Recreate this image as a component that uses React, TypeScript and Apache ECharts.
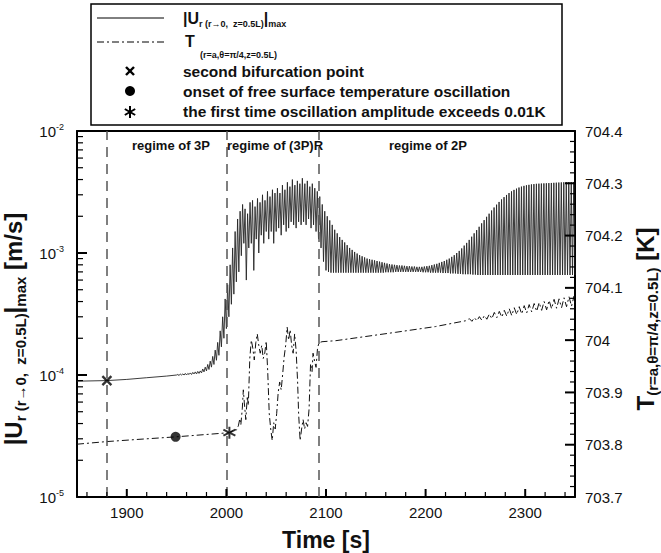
import React, { useEffect, useRef } from 'react';
import * as echarts from 'echarts';

const FONT = '"Liberation Sans", Arial, Helvetica, sans-serif';

// ---- layout of the plotting frame ----
const GRID = { left: 77, right: 86, top: 131, bottom: 56 };
const W = 661;
const H = 553;

// ---- axes / ticks ----
const X_MIN = 1850;
const X_MAX = 2350;
const xMajorTicks = [1900, 2000, 2100, 2200, 2300];
const xMinorTicks = [1860, 1880, 1920, 1940, 1960, 1980, 2020, 2040, 2060, 2080, 2120, 2140, 2160, 2180, 2220, 2240, 2260, 2280, 2320, 2340];
const U_MIN = 1e-5;
const U_MAX = 1e-2;
const uDecades = [1e-5, 1e-4, 1e-3, 1e-2];
const uMinorTicks = [
  2e-5, 3e-5, 4e-5, 5e-5, 6e-5, 7e-5, 8e-5, 9e-5,
  2e-4, 3e-4, 4e-4, 5e-4, 6e-4, 7e-4, 8e-4, 9e-4,
  2e-3, 3e-3, 4e-3, 5e-3, 6e-3, 7e-3, 8e-3, 9e-3,
];
const T_MIN = 703.7;
const T_MAX = 704.4;
const tMajorTicks = [703.7, 703.8, 703.9, 704.0, 704.1, 704.2, 704.3, 704.4];
const tMinorTicks = [
  703.72, 703.74, 703.76, 703.78, 703.82, 703.84, 703.86, 703.88, 703.92, 703.94, 703.96, 703.98,
  704.02, 704.04, 704.06, 704.08, 704.12, 704.14, 704.16, 704.18, 704.22, 704.24, 704.26, 704.28,
  704.32, 704.34, 704.36, 704.38,
];

// ---- regimes ----
const regimeBounds = [1880, 2000, 2093];
const regimeLabels = ['regime of 3P', 'regime of (3P)R', 'regime of 2P'];

// ---- |U_r| max, in units of 1e-4 m/s ----
const U_UNIT = 1e-4;
const uLeadTimes = [1850, 1880, 1900, 1920, 1940, 1950];
const uLeadValues = [0.89, 0.9, 0.92, 0.95, 0.98, 1.0];
// oscillating part: alternating peak / trough, one sample every 1.25 s after 1950 s
const uOscStart = 1950;
const uOscStep = 1.25;
const uOscValues = [
  1.01, 0.99, 1.02, 1.0, 1.02, 1.0, 1.03, 1.0, 1.03, 1.01, 1.04, 1.01, 1.05, 1.02, 1.06, 1.02, 1.07, 1.03, 1.08, 1.04,
  1.12, 1.06, 1.16, 1.08, 1.22, 1.11, 1.3, 1.16, 1.42, 1.22, 1.6, 1.32, 1.85, 1.45, 2.3, 1.7, 3.0, 2.0, 4.2, 2.4,
  5.5, 3.0, 8.0, 3.8, 11, 4.6, 15, 5.8, 19, 7.0, 22, 9.5, 25, 12, 23, 6.0, 21, 11, 26, 12,
  27, 7.2, 24, 13, 28, 10, 26, 14, 30, 12, 27, 15, 32, 13, 29, 15, 33, 12, 31, 15,
  34, 16, 31, 14, 36, 17, 33, 15, 38, 16, 35, 18, 40, 17, 36, 16, 39, 18, 37, 17,
  41, 18, 37, 17, 39, 19, 35, 16, 37, 17, 34, 15, 32, 13, 29, 11, 25, 8.5, 22, 7.2,
  20, 7.0, 18.5, 6.9, 17, 6.9, 15.5, 6.9, 14.5, 6.9, 13.5, 6.9, 12.8, 6.9, 12.2, 6.9, 11.6, 6.9, 11.0, 6.9,
  10.6, 6.9, 10.2, 6.9, 9.9, 6.9, 9.6, 6.9, 9.4, 6.9, 9.2, 6.9, 9.0, 6.9, 8.9, 6.9, 8.8, 6.9, 8.7, 6.9,
  8.6, 6.9, 8.5, 6.9, 8.4, 6.9, 8.3, 6.95, 8.2, 6.95, 8.1, 6.95, 8.05, 6.95, 8.0, 7.0, 7.95, 7.0, 7.9, 7.0,
  7.9, 7.0, 7.85, 7.0, 7.8, 7.0, 7.8, 7.0, 7.75, 7.0, 7.75, 7.0, 7.7, 7.0, 7.7, 7.0, 7.7, 6.95, 7.75, 6.95,
  7.8, 6.95, 7.85, 6.9, 7.95, 6.9, 8.05, 6.9, 8.15, 6.9, 8.3, 6.9, 8.45, 6.85, 8.6, 6.85, 8.8, 6.85, 9.0, 6.8,
  9.3, 6.8, 9.6, 6.8, 10.0, 6.75, 10.4, 6.75, 10.9, 6.7, 11.5, 6.7, 12.1, 6.7, 12.8, 6.7, 13.6, 6.65, 14.5, 6.65,
  15.4, 6.6, 16.4, 6.6, 17.5, 6.6, 18.6, 6.6, 19.8, 6.6, 21.0, 6.6, 22.3, 6.6, 23.6, 6.6, 24.9, 6.6, 26.2, 6.6,
  27.5, 6.6, 28.7, 6.6, 29.9, 6.6, 31.0, 6.6, 32.0, 6.6, 32.9, 6.6, 33.7, 6.6, 34.4, 6.6, 35.0, 6.6, 35.5, 6.6,
  35.9, 6.6, 36.2, 6.6, 36.5, 6.6, 36.7, 6.6, 36.9, 6.6, 37.0, 6.6, 37.1, 6.6, 37.2, 6.6, 37.3, 6.6, 37.4, 6.6,
  37.5, 6.6, 37.6, 6.6, 37.7, 6.6, 37.8, 6.6, 37.9, 6.6, 38.0, 6.6, 38.0, 6.6, 38.1, 6.6, 38.1, 6.6, 38.2, 6.6,
];

// ---- T (r=a, theta=pi/4, z=0.5L), K ----
const tTimes = [
  1850, 1880, 1910, 1949, 2003, 2006, 2008, 2010, 2012, 2013.5, 2014.5, 2016, 2017, 2018, 2019.5, 2021, 2022, 2023.5, 2025, 2026.5,
  2028, 2029.5, 2031, 2032.5, 2034, 2035.5, 2037, 2038.5, 2040, 2041.5, 2043, 2044.5, 2046, 2047.5, 2049, 2050.5, 2052, 2053.5, 2055, 2056.5,
  2058, 2059.5, 2061, 2062.5, 2064, 2065.5, 2067, 2068.5, 2070, 2071.5, 2072.5, 2074, 2075.5, 2077, 2078.5, 2080, 2081.5, 2083, 2084.5, 2086,
  2087, 2088.5, 2090, 2091.5, 2093, 2096, 2110, 2140, 2170, 2210, 2240,
  2244, 2246.5, 2249, 2251.5, 2254, 2256.5, 2259, 2261.5, 2264, 2266.5, 2269, 2271.5, 2274, 2276.5, 2279, 2281.5, 2284, 2286.5, 2289, 2291.5,
  2294, 2296.5, 2299, 2301.5, 2304, 2306.5, 2309, 2311.5, 2314, 2316.5, 2319, 2321.5, 2324, 2326.5, 2329, 2331.5, 2334, 2336.5, 2339, 2341.5,
  2344, 2346.5, 2349, 2350,
];
const tValues = [
  703.801, 703.806, 703.81, 703.815, 703.823, 703.826, 703.83, 703.828, 703.836, 703.85, 703.838, 703.87, 703.905, 703.88, 703.848, 703.893, 703.875, 703.965, 704.0, 703.985,
  703.962, 703.995, 704.012, 703.99, 703.975, 703.99, 703.965, 703.975, 703.998, 703.94, 703.86, 703.83, 703.808, 703.842, 703.83, 703.86, 703.9, 703.92, 703.905, 703.935,
  703.968, 703.99, 704.025, 704.0, 704.02, 703.99, 703.975, 704.012, 703.98, 703.92, 703.86, 703.808, 703.83, 703.848, 703.83, 703.842, 703.835, 703.868, 703.955, 703.94,
  703.975, 703.96, 703.948, 703.985, 703.995, 703.997, 703.999, 704.007, 704.015, 704.026, 704.037,
  704.041, 704.036, 704.043, 704.037, 704.045, 704.038, 704.047, 704.04, 704.05, 704.041, 704.053, 704.043, 704.055, 704.044, 704.057, 704.046, 704.06, 704.047, 704.062, 704.049,
  704.064, 704.05, 704.066, 704.052, 704.068, 704.054, 704.07, 704.055, 704.072, 704.057, 704.074, 704.058, 704.076, 704.06, 704.078, 704.061, 704.079, 704.062, 704.081, 704.064,
  704.083, 704.065, 704.084, 704.07,
];

// ---- marked events ----
const bifurcationPoint = [1880, 0.9]; // on |U_r|, x1e-4 m/s
const onsetPoint = [1949, 703.815]; // on T
const exceedPoint = [2003, 703.823]; // on T

const X_SYMBOL = 'path://M0,0L10,10M10,0L0,10';
const STAR_SYMBOL = 'path://M5,0L5,10M0.67,2.5L9.33,7.5M0.67,7.5L9.33,2.5';

function legendGraphics(): any[] {
  const txt = (x: number, y: number, text: string, size: number, extra: any = {}) => ({
    type: 'text', x, y, z: 11,
    style: { text, fontSize: size, fontWeight: 'bold', fontFamily: FONT, fill: '#111', verticalAlign: 'middle', ...extra },
  });
  return [
    { type: 'rect', shape: { x: 91, y: 4, width: 471, height: 121 }, style: { fill: '#fff', stroke: '#000', lineWidth: 1.5 }, z: 10 },
    { type: 'line', shape: { x1: 97, y1: 18, x2: 164, y2: 18 }, style: { stroke: '#000', lineWidth: 1 }, z: 11 },
    { type: 'line', shape: { x1: 97, y1: 42, x2: 164, y2: 42 }, style: { stroke: '#000', lineWidth: 1, lineDash: [7, 3, 2, 3] }, z: 11 },
    { type: 'line', shape: { x1: 126, y1: 67, x2: 134, y2: 75 }, style: { stroke: '#000', lineWidth: 2.4 }, z: 11 },
    { type: 'line', shape: { x1: 134, y1: 67, x2: 126, y2: 75 }, style: { stroke: '#000', lineWidth: 2.4 }, z: 11 },
    { type: 'circle', shape: { cx: 130, cy: 91, r: 5 }, style: { fill: '#000' }, z: 11 },
    { type: 'line', shape: { x1: 130, y1: 106, x2: 130, y2: 118 }, style: { stroke: '#000', lineWidth: 2 }, z: 11 },
    { type: 'line', shape: { x1: 124.8, y1: 109, x2: 135.2, y2: 115 }, style: { stroke: '#000', lineWidth: 2 }, z: 11 },
    { type: 'line', shape: { x1: 124.8, y1: 115, x2: 135.2, y2: 109 }, style: { stroke: '#000', lineWidth: 2 }, z: 11 },
    {
      type: 'text', x: 183, y: 18, z: 11,
      style: {
        text: '{gMain||U}{gSub|r (r→0,  z=0.5L)}{gMain||}{gSub|max}', verticalAlign: 'middle',
        rich: {
          gMain: { fontSize: 16, fontWeight: 'bold', fontFamily: FONT, fill: '#111', lineHeight: 20, verticalAlign: 'middle' },
          gSub: { fontSize: 9, fontWeight: 'bold', fontFamily: FONT, fill: '#111', lineHeight: 9, verticalAlign: 'bottom' },
        },
      },
    },
    txt(185, 41, 'T', 16),
    txt(200, 55, '(r=a,θ=π/4,z=0.5L)', 9),
    txt(183, 71, 'second bifurcation point', 15.5),
    txt(183, 91, 'onset of free surface temperature oscillation', 15.5),
    txt(183, 111, 'the first time oscillation amplitude exceeds 0.01K', 15.5),
    txt(171, 145, regimeLabels[0], 13, { align: 'center' }),
    txt(275, 145, regimeLabels[1], 13, { align: 'center' }),
    txt(428, 145, regimeLabels[2], 13, { align: 'center' }),
  ];
}

export default function App() {
  const ref = useRef<HTMLDivElement>(null);

  useEffect(() => {
    if (!ref.current) return;
    const chart = echarts.init(ref.current, null, { renderer: 'svg' });

    const uData: number[][] = [
      ...uLeadTimes.map((t, i) => [t, uLeadValues[i] * U_UNIT]),
      ...uOscValues.map((v, i) => [uOscStart + (i + 1) * uOscStep, v * U_UNIT]),
    ];
    const tData = tTimes.map((t, i) => [t, tValues[i]]);

    const axisLineStyle = { color: '#000', width: 2 };
    const titleRich = {
      tMain: { fontSize: 24, fontWeight: 'bold', fontFamily: FONT, color: '#111', lineHeight: 30, verticalAlign: 'middle' },
      tSub: { fontSize: 15, fontWeight: 'bold', fontFamily: FONT, color: '#111', lineHeight: 15, verticalAlign: 'bottom' },
    };
    const tickLabel = { fontSize: 15, fontFamily: FONT, color: '#111' };

    const option: any = {
      animation: false,
      backgroundColor: '#fff',
      grid: { ...GRID, containLabel: false, outerBoundsMode: 'none' },
      xAxis: [
        {
          type: 'value', min: X_MIN, max: X_MAX, position: 'bottom',
          name: 'Time [s]', nameLocation: 'middle', nameGap: 31,
          nameTextStyle: { fontSize: 23, fontWeight: 'bold', fontFamily: FONT, color: '#111' },
          axisLine: { show: true, onZero: false, lineStyle: axisLineStyle },
          axisTick: { show: false },
          axisLabel: { show: true, customValues: xMajorTicks, margin: 8, formatter: (v: number) => String(v), ...tickLabel },
          splitLine: { show: false },
        },
        {
          type: 'value', min: X_MIN, max: X_MAX, position: 'top',
          axisLine: { show: true, onZero: false, lineStyle: axisLineStyle },
          axisTick: { show: false }, axisLabel: { show: false }, splitLine: { show: false },
        },
      ],
      yAxis: [
        {
          type: 'log', logBase: 10, min: U_MIN, max: U_MAX, position: 'left',
          name: '{tMain||U}{tSub|r (r→0,  z=0.5L)}{tMain||}{tSub|max}{tMain| [m/s]}',
          nameLocation: 'middle', nameGap: 36, nameRotate: 90,
          nameTextStyle: { rich: titleRich, padding: [0, 30, 0, 0] },
          axisLine: { show: true, onZero: false, lineStyle: axisLineStyle },
          axisTick: { show: false },
          axisLabel: {
            show: true, customValues: uDecades, margin: 13,
            formatter: (v: number) => `{lBase|10}{lExp|${Math.round(Math.log10(v))}}`,
            rich: {
              lBase: { fontSize: 15, fontFamily: FONT, color: '#111', lineHeight: 18, verticalAlign: 'middle' },
              lExp: { fontSize: 9, fontFamily: FONT, color: '#111', lineHeight: 9, verticalAlign: 'top' },
            },
          },
          splitLine: { show: false },
        },
        {
          type: 'value', min: T_MIN, max: T_MAX, interval: 0.1, position: 'right',
          name: '{tMain|T}{tSub|(r=a,θ=π/4,z=0.5L)}{tMain| [K]}',
          nameLocation: 'middle', nameGap: 52, nameRotate: 90,
          nameTextStyle: { rich: titleRich, padding: [0, 10, 0, 0] },
          axisLine: { show: true, onZero: false, lineStyle: axisLineStyle },
          axisTick: { show: false },
          minorTick: { show: false },
          axisLabel: { show: true, margin: 10, ...tickLabel },
          splitLine: { show: false }, minorSplitLine: { show: false },
        },
      ],
      series: [
        {
          name: '|Ur|max', type: 'line', xAxisIndex: 0, yAxisIndex: 0, data: uData,
          showSymbol: false, symbol: 'none', lineStyle: { color: '#262626', width: 0.9 },
          markLine: {
            silent: true, symbol: 'none', label: { show: false },
            lineStyle: { type: [10, 7], color: '#555', width: 1.5 },
            data: regimeBounds.map((x) => ({ xAxis: x })),
          },
          z: 3,
        },
        {
          name: 'T', type: 'line', xAxisIndex: 0, yAxisIndex: 1, data: tData,
          showSymbol: false, symbol: 'none', lineStyle: { color: '#111', width: 1, type: [7, 3, 2, 3] },
          z: 3,
        },
        {
          name: 'second bifurcation point', type: 'scatter', xAxisIndex: 0, yAxisIndex: 0,
          data: [[bifurcationPoint[0], bifurcationPoint[1] * U_UNIT]],
          symbol: X_SYMBOL, symbolSize: 9,
          itemStyle: { color: 'none', borderColor: '#000', borderWidth: 2.4 }, z: 5,
        },
        {
          name: 'onset of free surface temperature oscillation', type: 'scatter', xAxisIndex: 0, yAxisIndex: 1,
          data: [onsetPoint], symbol: 'circle', symbolSize: 10, itemStyle: { color: '#000' }, z: 5,
        },
        {
          name: 'the first time oscillation amplitude exceeds 0.01K', type: 'scatter', xAxisIndex: 0, yAxisIndex: 1,
          data: [exceedPoint], symbol: STAR_SYMBOL, symbolSize: 12,
          itemStyle: { color: 'none', borderColor: '#000', borderWidth: 2 }, z: 5,
        },
      ],
      graphic: legendGraphics(),
    };

    chart.setOption(option);

    // inward tick marks along the frame; positions follow each axis's scale
    const plotW = W - GRID.left - GRID.right;
    const plotH = H - GRID.top - GRID.bottom;
    const xPix = (v: number) => GRID.left + ((v - X_MIN) / (X_MAX - X_MIN)) * plotW;
    const uPix = (v: number) =>
      GRID.top + ((Math.log10(U_MAX) - Math.log10(v)) / (Math.log10(U_MAX) - Math.log10(U_MIN))) * plotH;
    const tPix = (v: number) => GRID.top + ((T_MAX - v) / (T_MAX - T_MIN)) * plotH;
    const libPx = (seriesIndex: number, x: number, y: number): number[] | null => {
      try {
        const p = chart.convertToPixel({ seriesIndex }, [x, y]) as any;
        if (p && Number.isFinite(p[0]) && Number.isFinite(p[1]) && p[0] >= 0 && p[0] <= W && p[1] >= 0 && p[1] <= H) return p;
      } catch (e) {
        /* fall through */
      }
      return null;
    };
    const xBottom = H - GRID.bottom;
    const xLeft = GRID.left;
    const xRight = W - GRID.right;

    const tickLine = (x1: number, y1: number, x2: number, y2: number, w: number) => ({
      type: 'line', z: 12,
      shape: { x1, y1, x2, y2 }, style: { stroke: '#000', lineWidth: w },
    });
    const ticks: any[] = [];
    xMajorTicks.forEach((v) => { const p = libPx(0, v, U_MIN); const x = p ? p[0] : xPix(v); ticks.push(tickLine(x, xBottom, x, xBottom - 8, 2)); });
    xMinorTicks.forEach((v) => { const p = libPx(0, v, U_MIN); const x = p ? p[0] : xPix(v); ticks.push(tickLine(x, xBottom, x, xBottom - 5, 1.2)); });
    uDecades.forEach((v) => { const p = libPx(0, X_MIN, v); const y = p ? p[1] : uPix(v); ticks.push(tickLine(xLeft, y, xLeft + 10, y, 2)); });
    uMinorTicks.forEach((v) => { const p = libPx(0, X_MIN, v); const y = p ? p[1] : uPix(v); ticks.push(tickLine(xLeft, y, xLeft + 6, y, 1.2)); });
    tMajorTicks.forEach((v) => { const p = libPx(1, X_MAX, v); const y = p ? p[1] : tPix(v); ticks.push(tickLine(xRight, y, xRight - 10, y, 2)); });
    tMinorTicks.forEach((v) => { const p = libPx(1, X_MAX, v); const y = p ? p[1] : tPix(v); ticks.push(tickLine(xRight, y, xRight - 5, y, 1.2)); });

    chart.setOption({ graphic: [...legendGraphics(), ...ticks] });

    return () => chart.dispose();
  }, []);

  return <div ref={ref} style={{ position: 'absolute', left: 0, top: 0, width: W, height: H }} />;
}
